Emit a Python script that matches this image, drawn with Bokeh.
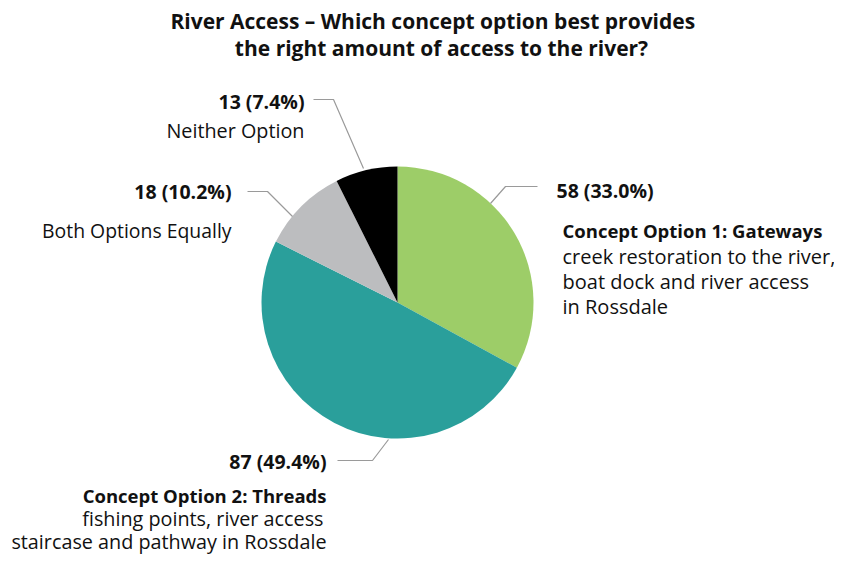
import numpy as np
from bokeh.plotting import figure
from bokeh.models import Range1d
from bokeh.core.properties import value
from bokeh.embed import file_html
from bokeh.resources import INLINE

# Data
categories = ["Concept Option 1: Gateways", "Concept Option 2: Threads",
              "Both Options Equally", "Neither Option"]
counts = [58, 87, 18, 13]
colors = ["#9dcd68", "#2a9f9b", "#bcbdbf", "#000000"]
title_lines = ["River Access  \u2013 Which concept option best provides",
               "the right amount of access to the river?"]
desc1 = ["creek restoration to the river,", "boat dock and river access", "in Rossdale"]
desc2 = ["fishing points, river access", "staircase and pathway in Rossdale"]

total = sum(counts)
pcts = [c / total * 100 for c in counts]
cum = np.cumsum([0] + counts)
starts = [np.pi / 2 - cum[i] / total * 2 * np.pi for i in range(len(counts))]
ends = [np.pi / 2 - cum[i + 1] / total * 2 * np.pi for i in range(len(counts))]

W, H = 834, 554
p = figure(width=W, height=H, output_backend="svg", toolbar_location=None,
           x_range=Range1d(0, W), y_range=Range1d(570 - H, 570),
           min_border=0)
p.axis.visible = False
p.grid.visible = False
p.outline_line_color = None

FONT = "Open Sans"
def Y(py):
    return 570 - py

cx, cy, r = 397, Y(302), 136
p.wedge(x=cx, y=cy, radius=r, start_angle=starts, end_angle=ends,
        direction="clock", fill_color=colors, line_color=None)

# leader lines
leaders = [
    ([490, 505, 537], [203, 186, 186]),
    ([388, 372, 337], [439, 460, 460]),
    ([292, 267, 247], [216, 191, 191]),
    ([363, 333, 313], [168, 99, 99]),
]
for xs, ys in leaders:
    p.line(xs, [Y(v) for v in ys], line_color="#9a9a9a", line_width=1.2)

def txt(x, y, t, size, bold=False, align="left"):
    p.text(x=[x], y=[Y(y)], text=[t], text_font=value(FONT),
           text_font_size=f"{size}px", text_font_style="bold" if bold else "normal",
           text_align=align, text_baseline="middle", text_color="#111111")

nums = [f"{c} ({pc:.1f}%)" for c, pc in zip(counts, pcts)]

# title
txt(435, 20, title_lines[0], 21, True, "center")
txt(441, 47, title_lines[1], 21, True, "center")

# Option 1
txt(556, 190, nums[0], 19.5, True)
txt(562, 230, categories[0], 18.5, True)
for i, line in enumerate(desc1):
    txt(562, 256 + 25 * i, line, 20)

# Option 2
txt(326, 461, nums[1], 19.5, True, "right")
txt(326, 495, categories[1], 18.5, True, "right")
txt(323, 518, desc2[0], 19.8, False, "right")
txt(326, 541, desc2[1], 19.8, False, "right")

# Both
txt(231, 191, nums[2], 19.5, True, "right")
txt(231, 230, categories[2], 19.4, False, "right")

# Neither
txt(304, 101, nums[3], 19.5, True, "right")
txt(304, 130, categories[3], 19.8, False, "right")

open("out.html", "w").write(file_html(p, INLINE))
